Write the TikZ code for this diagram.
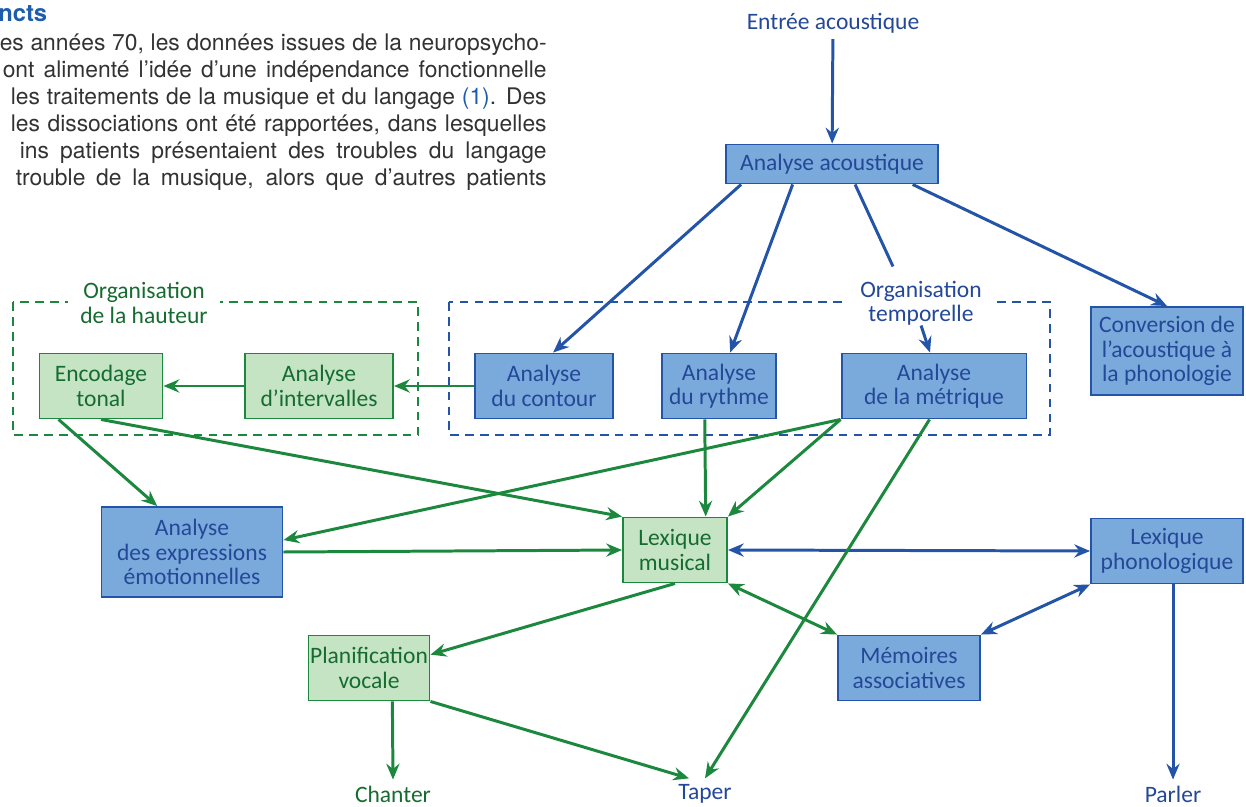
\documentclass[tikz,border=0pt]{standalone}
\usepackage{fontspec}
\setmainfont{Carlito}
\newfontfamily\artfont{TeX Gyre Heros}
\usetikzlibrary{arrows.meta,calc}

\definecolor{boxblue}{RGB}{122,170,219}
\definecolor{lineblue}{RGB}{36,84,168}
\definecolor{inkblue}{RGB}{36,72,152}
\definecolor{boxgreen}{RGB}{196,228,196}
\definecolor{linegreen}{RGB}{28,136,62}
\definecolor{inkgreen}{RGB}{22,108,48}
\definecolor{headblue}{RGB}{30,92,172}
\definecolor{artgray}{RGB}{50,50,50}

\tikzset{
  bluebox/.style={rectangle, draw=lineblue, fill=boxblue, text=inkblue, line width=1.1pt, inner sep=0pt, align=center, minimum height=1.3cm},
  greenbox/.style={rectangle, draw=linegreen, fill=boxgreen, text=inkgreen, line width=1.1pt, inner sep=0pt, align=center, minimum height=1.3cm},
  bluelink/.style={draw=lineblue, line width=1.7pt},
  greenlink/.style={draw=linegreen, line width=1.7pt},
  groupframe/.style={line width=1.1pt, dash pattern=on 5pt off 3.5pt},
  grouplabel/.style={fill=white, align=center, inner xsep=7pt, inner ysep=0pt},
  artline/.style={anchor=east, inner sep=0pt, text=artgray, font=\artfont\fontsize{13}{15}\selectfont},
}

\begin{document}
\begin{tikzpicture}[x=0.02cm, y=-0.02cm, >={Stealth[length=9pt,width=7.5pt,inset=3pt]}, font=\fontsize{13.4}{13.8}\selectfont]
  \useasboundingbox (0,0) rectangle (1246,807);

  % bout de l'article
  \node (head) at (-2,14) [anchor=west, inner sep=0pt, text=headblue, font=\artfont\bfseries\fontsize{13.5}{15}\selectfont] {ncts};
  \node (l1) at (547,45) [artline] {\makebox[10.94cm][s]{es années 70, les données issues de la neuropsycho-}};
  \node (l2) at (547,72) [artline] {\makebox[10.88cm][s]{ont alimenté l’idée d’une indépendance fonctionnelle}};
  \node (l3) at (547,99) [artline] {\makebox[10.72cm][s]{les traitements de la musique et du langage {\color{headblue}(1)}. Des}};
  \node (l4) at (547,126) [artline] {\makebox[10.72cm][s]{les dissociations ont été rapportées, dans lesquelles}};
  \node (l5) at (547,153) [artline] {\makebox[10.54cm][s]{ins patients présentaient des troubles du langage}};
  \node (l6) at (547,180) [artline] {\makebox[10.62cm][s]{trouble de la musique, alors que d’autres patients}};

  % cadres
  \draw[groupframe, linegreen] (13,302) rectangle (418,435);
  \draw[groupframe, lineblue] (449,302) rectangle (1050,435);
  \node (orgH) at (144,303) [grouplabel, text=inkgreen] {Organisation\\de la hauteur};
  \node (orgT) at (921,303) [grouplabel, text=inkblue] {Organisation\\temporelle};

  % boites
  \node (entree) at (833,23) [text=inkblue] {Entrée acoustique};
  \node (aa) at (832,164) [bluebox, minimum width=4.24cm, minimum height=0.78cm] {Analyse acoustique};
  \node (encodage) at (101,386) [greenbox, minimum width=2.46cm] {Encodage\\tonal};
  \node (interv) at (319,386) [greenbox, minimum width=2.96cm] {Analyse\\d’intervalles};
  \node (contour) at (544,386) [bluebox, minimum width=2.76cm] {Analyse\\du contour};
  \node (rythme) at (719,386) [bluebox, minimum width=2.28cm] {Analyse\\du rythme};
  \node (metrique) at (934,386) [bluebox, minimum width=3.7cm] {Analyse\\de la métrique};
  \node (conv) at (1167,351) [bluebox, minimum width=3.04cm, minimum height=1.76cm] {Conversion de\\l’acoustique à\\la phonologie};
  \node (emotion) at (192,552) [bluebox, minimum width=3.62cm, minimum height=1.8cm] {Analyse\\des expressions\\émotionnelles};
  \node (lexmus) at (675,550) [greenbox, minimum width=2.08cm] {Lexique\\musical};
  \node (phono) at (1167,551) [bluebox, minimum width=3.04cm] {Lexique\\phonologique};
  \node (planif) at (369,668) [greenbox, minimum width=2.42cm] {Planification\\vocale};
  \node (memoires) at (909,668) [bluebox, minimum width=2.84cm] {Mémoires\\associatives};
  \node (chanter) at (393,794) [text=inkgreen] {Chanter};
  \node (taper) at (705,794) [text=inkblue] {Taper};
  \node (parler) at (1173,794) [text=inkblue] {Parler};

  % fleches bleues
  \draw[bluelink, ->] (entree) -- (aa);
  \draw[bluelink, ->] ($(aa.south west)!.075!(aa.south east)$) -- ($(contour.north west)!.565!(contour.north east)$);
  \draw[bluelink, ->] ($(aa.south west)!.316!(aa.south east)$) -- ($(rythme.north west)!.596!(rythme.north east)$);
  \draw[bluelink] ($(aa.south west)!.608!(aa.south east)$) -- ($(orgT.north)+(-28,-14)$);
  \draw[bluelink, ->] (orgT.south) -- ($(metrique.north)+(-4,0)$);
  \draw[bluelink, ->] ($(aa.south west)!.877!(aa.south east)$) -- (conv.north);
  \draw[bluelink, <->] (lexmus.east) -- (phono.west);
  \draw[bluelink, <->] (phono.south west) -- (memoires.north east);
  \draw[bluelink, ->] ($(phono.south)+(6,0)$) -- (parler.north);

  % fleches vertes
  \draw[greenlink, ->] (contour.west) -- (interv.east);
  \draw[greenlink, ->] (interv.west) -- (encodage.east);
  \draw[greenlink, ->] ($(encodage.south west)!.16!(encodage.south east)$) -- ($(emotion.north west)!.31!(emotion.north east)$);
  \draw[greenlink, ->] (encodage.south) -- (lexmus.north west);
  \draw[greenlink, ->] ($(rythme.south west)!.377!(rythme.south east)$) -- ($(lexmus.north west)!.79!(lexmus.north east)$);
  \draw[greenlink, ->] (metrique.south west) -- ($(emotion.north east)!.37!(emotion.south east)$);
  \draw[greenlink, ->] (metrique.south west) -- (lexmus.north east);
  \draw[greenlink, ->] ($(metrique.south west)!.476!(metrique.south east)$) -- (taper.north);
  \draw[greenlink, ->] (emotion.east) -- (lexmus.west);
  \draw[greenlink, <->] (lexmus.south east) -- (memoires.north west);
  \draw[greenlink, ->] (lexmus.south) -- ($(planif.north east)!.3!(planif.south east)$);
  \draw[greenlink, ->] ($(planif.south west)!.69!(planif.south east)$) -- (chanter.north);
  \draw[greenlink, ->] (planif.south east) -- ($(taper.north)+(-16,0)$);
\end{tikzpicture}
\end{document}
